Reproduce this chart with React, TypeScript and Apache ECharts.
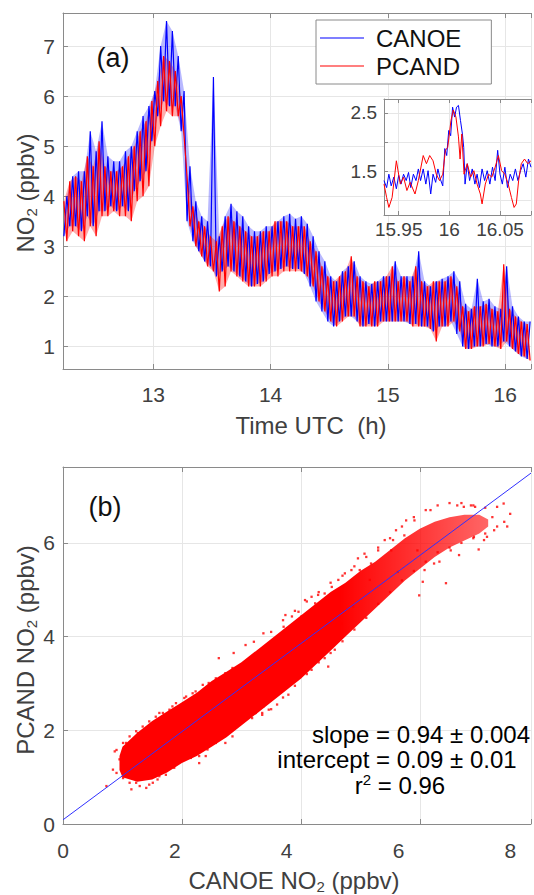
import React, { useEffect, useRef } from "react";
import * as echarts from "echarts";

// ---------- panel (a): time series, envelope read per 0.05 h bin ----------
const timeBins = [
  12.25, 12.3, 12.35, 12.4, 12.45, 12.5, 12.55, 12.6, 12.65, 12.7,
  12.75, 12.8, 12.85, 12.9, 12.95, 13.0, 13.05, 13.1, 13.15, 13.2,
  13.25, 13.3, 13.35, 13.4, 13.45, 13.5, 13.55, 13.6, 13.65, 13.7,
  13.75, 13.8, 13.85, 13.9, 13.95, 14.0, 14.05, 14.1, 14.15, 14.2,
  14.25, 14.3, 14.35, 14.4, 14.45, 14.5, 14.55, 14.6, 14.65, 14.7,
  14.75, 14.8, 14.85, 14.9, 14.95, 15.0, 15.05, 15.1, 15.15, 15.2,
  15.25, 15.3, 15.35, 15.4, 15.45, 15.5, 15.55, 15.6, 15.65, 15.7,
  15.75, 15.8, 15.85, 15.9, 15.95, 16.0, 16.05, 16.1, 16.15, 16.2,
];
const canoeHi = [
  4.0, 4.4, 4.5, 4.5, 5.3, 4.9, 5.5, 4.8, 4.7, 4.7,
  4.9, 5.0, 5.3, 5.6, 5.8, 6.1, 7.0, 7.5, 7.3, 6.8,
  6.1, 4.6, 3.9, 3.6, 3.5, 6.38, 3.2, 3.6, 3.85, 3.7,
  3.6, 3.4, 3.3, 3.3, 3.4, 3.4, 3.5, 3.6, 3.65, 3.55,
  3.6, 3.45, 3.2, 2.9, 2.7, 2.4, 2.3, 2.5, 2.6, 2.7,
  2.4, 2.3, 2.25, 2.3, 2.4, 2.4, 2.7, 2.4, 2.4, 2.4,
  2.9, 2.3, 2.2, 2.3, 2.35, 2.4, 2.5, 2.3, 1.85, 1.75,
  2.35, 1.9, 1.95, 1.8, 1.75, 2.6, 1.8, 1.6, 1.5, 1.5,
];
const canoeLo = [
  3.2, 3.4, 3.4, 3.3, 3.6, 3.4, 3.7, 3.7, 3.8, 3.7,
  3.8, 3.7, 4.1, 4.3, 4.5, 5.1, 5.6, 5.9, 5.8, 5.8,
  5.3, 3.5, 3.1, 2.9, 2.7, 2.6, 2.4, 2.5, 2.6, 2.5,
  2.4, 2.3, 2.2, 2.25, 2.3, 2.45, 2.5, 2.55, 2.6, 2.55,
  2.55, 2.45, 2.2, 1.9, 1.7, 1.5, 1.4, 1.5, 1.6, 1.6,
  1.5, 1.4, 1.45, 1.4, 1.5, 1.5, 1.5, 1.5, 1.5, 1.45,
  1.45, 1.4, 1.4, 1.3, 1.4, 1.4, 1.5, 1.25, 1.0, 0.95,
  1.0, 1.0, 1.05, 1.0, 1.0, 1.1, 1.0, 0.9, 0.8, 0.75,
];
const pcandHi = [
  3.9, 4.3, 4.4, 4.3, 4.8, 4.6, 5.1, 4.6, 4.5, 4.5,
  4.6, 4.8, 5.0, 5.3, 5.5, 5.9, 6.3, 6.8, 6.7, 6.5,
  6.0, 4.4, 3.8, 3.5, 3.4, 3.2, 3.1, 3.4, 3.6, 3.5,
  3.4, 3.3, 3.2, 3.2, 3.3, 3.3, 3.5, 3.5, 3.5, 3.4,
  3.4, 3.4, 3.1, 2.9, 2.6, 2.4, 2.3, 2.4, 2.5, 2.8,
  2.4, 2.3, 2.2, 2.3, 2.3, 2.4, 2.6, 2.3, 2.4, 2.3,
  2.6, 2.3, 2.2, 2.3, 2.3, 2.3, 2.4, 2.2, 1.8, 1.7,
  1.8, 1.8, 1.85, 1.75, 1.7, 2.64, 1.75, 1.6, 1.5, 1.45,
];
const pcandLo = [
  3.1, 3.3, 3.2, 3.1, 3.4, 3.2, 3.6, 3.6, 3.7, 3.6,
  3.6, 3.5, 3.9, 4.0, 4.2, 5.0, 5.4, 5.7, 5.6, 5.6,
  5.2, 3.4, 3.0, 2.8, 2.6, 2.5, 2.1, 2.2, 2.5, 2.4,
  2.3, 2.2, 2.2, 2.2, 2.3, 2.4, 2.4, 2.5, 2.5, 2.5,
  2.5, 2.4, 2.2, 1.9, 1.7, 1.5, 1.4, 1.5, 1.6, 1.6,
  1.4, 1.4, 1.4, 1.4, 1.5, 1.5, 1.5, 1.5, 1.5, 1.4,
  1.4, 1.4, 1.35, 1.1, 1.4, 1.4, 1.5, 1.3, 0.95, 0.95,
  1.0, 1.0, 1.05, 1.0, 0.95, 1.1, 0.95, 0.85, 0.8, 0.72,
];

// ---------- inset ----------
const insetCanoeT = [
  15.9355, 15.9381, 15.9403, 15.9426, 15.9452, 15.9477, 15.95, 15.9523, 15.9548, 15.9574,
  15.9597, 15.9619, 15.9645, 15.9671, 15.9694, 15.9716, 15.9742, 15.9768, 15.979, 15.9816,
  15.9839, 15.9865, 15.9887, 15.991, 15.9935, 15.9955, 15.9974, 15.9994, 16.0013, 16.0032,
  16.0052, 16.0071, 16.009, 16.011, 16.0129, 16.0142, 16.0155, 16.0177, 16.02, 16.0226,
  16.0252, 16.0274, 16.0297, 16.0323, 16.0348, 16.0374, 16.04, 16.0426, 16.0452, 16.0477,
  16.05, 16.0523, 16.0548, 16.0574, 16.06, 16.0626, 16.0652, 16.0677, 16.0703, 16.0729,
  16.0755, 16.0781, 16.0806,
];
const insetCanoeV = [
  1.34, 1.22, 1.45, 1.25, 1.4, 1.2, 1.43, 1.28, 1.45, 1.34,
  1.48, 1.22, 1.45, 1.34, 1.54, 1.34, 1.54, 1.28, 1.51, 1.11,
  1.45, 1.31, 1.54, 1.37, 1.25, 1.89, 1.77, 2.2, 2.11, 2.6,
  2.43, 2.6, 2.63, 2.37, 2.14, 1.91, 1.28, 1.63, 1.34, 1.54,
  1.28, 1.45, 1.22, 1.54, 1.34, 1.51, 1.28, 1.57, 1.34, 1.86,
  1.45, 1.28, 1.57, 1.22, 1.45, 1.34, 1.54, 1.34, 1.51, 1.63,
  1.4, 1.71, 1.57,
];
const insetPcandT = [
  15.9355, 15.9381, 15.9403, 15.9435, 15.9477, 15.9516, 15.9548, 15.9581, 15.9613, 15.9661,
  15.9694, 15.9742, 15.9774, 15.9806, 15.9839, 15.9871, 15.9903, 15.9935, 15.9961, 15.9984,
  16.0016, 16.0039, 16.0065, 16.009, 16.0106, 16.0123, 16.0145, 16.0177, 16.021, 16.0242,
  16.0274, 16.0306, 16.0323, 16.0355, 16.0387, 16.0419, 16.0452, 16.0484, 16.0516, 16.0548,
  16.0581, 16.0613, 16.0639, 16.0661, 16.0684, 16.071, 16.0742, 16.0774, 16.0806,
];
const insetPcandV = [
  1.28, 1.05, 0.88, 1.05, 1.68, 1.28, 1.4, 1.17, 1.31, 1.11,
  1.34, 1.77, 1.63, 1.77, 1.68, 1.45, 1.34, 1.45, 1.86, 1.91,
  2.37, 2.55, 2.43, 2.09, 1.71, 2.14, 1.45, 1.63, 1.4, 1.51,
  1.28, 1.11, 0.94, 1.28, 1.45, 1.4, 1.57, 1.77, 1.51, 1.45,
  1.28, 1.05, 0.88, 0.94, 1.34, 1.63, 1.71, 1.63, 1.68,
];

// ---------- panel (b): scatter ----------
const bandX = [0.95, 1.0, 1.25, 1.5, 1.75, 2.0, 2.25, 2.5, 2.75, 3.0, 3.25, 3.5, 3.75, 4.0, 4.25, 4.5, 4.75, 5.0, 5.25, 5.5, 5.75, 6.0, 6.25, 6.5, 6.75, 7.0, 7.15];
const bandHi = [1.45, 1.65, 1.95, 2.2, 2.4, 2.6, 2.8, 3.05, 3.25, 3.45, 3.7, 3.95, 4.2, 4.45, 4.7, 4.95, 5.15, 5.4, 5.6, 5.85, 6.1, 6.3, 6.45, 6.55, 6.6, 6.6, 6.5];
const bandLo = [1.15, 1.0, 0.9, 0.95, 1.1, 1.3, 1.45, 1.65, 1.85, 2.1, 2.35, 2.6, 2.85, 3.1, 3.4, 3.7, 4.0, 4.3, 4.6, 4.9, 5.2, 5.45, 5.7, 5.9, 6.05, 6.2, 6.35];
const scatterX = [
  7.52, 7.41, 7.47, 7.42, 7.3, 7.22, 7.25, 7.13, 7.08, 6.99, 6.91, 6.93, 6.86, 6.74, 6.63, 6.66, 6.52, 6.44, 6.33, 6.24,
  6.18, 6.08, 5.99, 6.05, 5.96, 5.91, 5.77, 5.74, 5.6, 5.63, 5.55, 5.52, 5.41, 5.3, 5.18, 5.16, 5.07, 4.99, 4.96, 4.88,
  4.85, 4.74, 4.71, 4.68, 4.63, 4.6, 4.52, 4.4, 4.46, 4.29, 4.24, 4.18, 4.13, 4.07, 4.01, 3.96, 3.85, 3.74, 3.71, 4.4,
  4.18, 3.96, 3.85, 4.57, 2.62, 3.21, 3.37, 2.87, 3.07, 0.73, 0.84, 0.87, 0.95, 1.06, 1.15, 1.23, 1.26, 1.4, 1.51, 1.62,
  1.62, 1.73, 1.84, 2.04, 2.18, 2.29, 2.4, 2.45, 2.73, 2.85, 2.96, 3.18, 3.35, 3.4, 3.29, 3.4, 3.49, 3.6, 3.35, 3.63,
  3.79, 3.74, 3.93, 4.46, 4.18, 3.46,
  0.9, 1.01, 1.12, 1.23, 1.34, 1.45, 1.56, 1.68, 1.79, 1.9, 2.07, 2.23, 2.35, 2.57, 2.73, 2.85,
  0.9, 1.01, 1.12, 1.29, 1.45, 1.59, 1.73, 1.87, 2.01, 2.15, 2.29, 2.43, 2.57, 2.73, 2.9, 3.07, 3.24, 3.37,
  3.5, 3.7, 3.9, 4.1, 4.3, 4.5, 4.7, 4.9, 5.1, 5.3, 5.5, 5.7, 5.9, 6.1, 6.3, 6.5, 6.7, 6.9, 7.1,
  3.5, 3.7, 3.9, 4.1, 4.3, 4.5, 4.7, 4.9, 5.1, 5.3, 5.5, 5.7, 5.9, 6.1, 6.3, 6.5, 6.7, 6.9, 7.1, 7.3,
];
const scatterY = [
  6.62, 6.84, 6.35, 6.45, 6.77, 6.55, 6.27, 6.13, 6.06, 5.86, 6.13, 6.77, 6.8, 6.77, 6.8, 5.74, 5.84, 5.14, 5.6, 5.56,
  6.7, 5.42, 4.88, 5.17, 5.84, 6.48, 6.48, 6.16, 6.27, 5.38, 6.06, 5.84, 6.06, 5.84, 5.56, 5.21, 5.77, 5.42, 5.67, 4.64,
  5.42, 5.35, 5.06, 4.28, 5.21, 4.07, 5.06, 4.92, 3.93, 4.89, 4.71, 4.85, 4.5, 4.78, 4.43, 4.53, 4.43, 4.46, 4.21, 3.54,
  3.5, 3.65, 3.93, 3.72, 3.54, 3.89, 4.07, 3.65, 3.82, 0.81, 1.16, 1.55, 1.38, 1.73, 0.74, 0.88, 1.94, 0.77, 0.88, 1.02,
  2.37, 2.26, 2.51, 2.69, 2.79, 1.3, 1.45, 3.01, 1.73, 1.87, 3.22, 2.26, 2.37, 3.08, 2.51, 2.65, 2.79, 2.55, 2.33, 3.01,
  2.76, 3.15, 3.4, 3.36, 3.29, 2.44,
  1.58, 1.73, 1.87, 1.98, 2.08, 2.19, 2.29, 2.37, 2.44, 2.58, 2.72, 2.83, 2.97, 3.11, 3.22, 3.33,
  1.09, 0.98, 0.88, 0.81, 0.84, 0.95, 1.05, 1.2, 1.38, 1.41, 1.45, 1.59, 1.73, 1.91, 2.08, 2.23, 2.37, 2.51,
  4.1, 4.35, 4.55, 4.75, 4.95, 5.15, 5.3, 5.5, 5.7, 5.9, 6.1, 6.35, 6.55, 6.7, 6.8, 6.85, 6.85, 6.8, 6.75,
  2.45, 2.7, 2.95, 3.2, 3.45, 3.65, 3.9, 4.15, 4.4, 4.7, 4.95, 5.2, 5.4, 5.6, 5.8, 5.9, 6.0, 6.1, 6.2, 6.35,
];
const fitX = [0, 7.87];
const fitY = [0.09, 7.49];

// ---------- tick labels ----------
const topXTickLabels = [13, 14, 15, 16];
const topYTickLabels = [1, 2, 3, 4, 5, 6, 7];
const insetXTickLabels = [15.95, 16, 16.05];
const insetYTickLabels = [1.5, 2.5];
const bottomXTickLabels = [0, 2, 4, 6, 8];
const bottomYTickLabels = [0, 2, 4, 6];

const FONT = "'Liberation Sans', Arial, Helvetica, sans-serif";
const AXIS_COLOR = "#8a8a8a";
const LABEL_COLOR = "#404040";
const GRID_COLOR = "#e6e6e6";

const only = (list: number[]) => (v: number) =>
  list.some((x) => Math.abs(x - v) < 1e-6) ? String(+v.toFixed(4)) : "";

export default function App() {
  const ref = useRef<HTMLDivElement>(null);
  useEffect(() => {
    if (!ref.current) return;
    const chart = echarts.init(ref.current, undefined, { renderer: "svg" });

    const HALF = 0.0125;
    const canoeLine: number[][] = [];
    const pcandLine: number[][] = [];
    timeBins.forEach((t, i) => {
      canoeLine.push([t - HALF, canoeLo[i]], [t + HALF, canoeHi[i]]);
      pcandLine.push([t - HALF, pcandHi[i]], [t + HALF, pcandLo[i]]);
    });
    const insetCanoe = insetCanoeT.map((t, i) => [t, insetCanoeV[i]]);
    const insetPcand = insetPcandT.map((t, i) => [t, insetPcandV[i]]);
    const scatter = scatterX.map((x, i) => [x, scatterY[i]]);
    const fit = fitX.map((x, i) => [x, fitY[i]]);

    const envelope = (hi: number[], lo: number[], hiShift: number, loShift: number, fill: string, z: number) => ({
      type: "custom",
      xAxisIndex: 0,
      yAxisIndex: 0,
      data: [[0, 0]],
      z,
      silent: true,
      renderItem: (_p: any, api: any) => {
        const pts: number[][] = [];
        for (let i = 0; i < timeBins.length; i++) pts.push(api.coord([timeBins[i] + hiShift, hi[i]]));
        for (let i = timeBins.length - 1; i >= 0; i--) pts.push(api.coord([timeBins[i] + loShift, lo[i]]));
        return { type: "polygon", shape: { points: pts }, style: { fill } };
      },
    });

    const axisLine = { show: true, lineStyle: { color: AXIS_COLOR, width: 1 } };
    const tickIn = { show: true, inside: true, length: 5, lineStyle: { color: AXIS_COLOR } };
    const split = { show: true, lineStyle: { color: GRID_COLOR, width: 1 } };
    const lab = (margin: number, size: number, list: number[]) => ({
      show: true,
      color: LABEL_COLOR,
      fontSize: size,
      fontFamily: FONT,
      margin,
      showMinLabel: true,
      showMaxLabel: true,
      formatter: only(list),
    });
    const noLab = { show: false };
    const noSplit = { show: false };

    const txt = (x: number, y: number, text: string, size: number, color: string, rotation = 0, rich?: any) => ({
      type: "text",
      x,
      y,
      rotation,
      z: 50,
      style: {
        text,
        fill: color,
        fontSize: size,
        fontFamily: FONT,
        align: "center",
        verticalAlign: "middle",
        rich,
      },
    });
    const subRich = (size: number, color: string) => ({
      a: { fontSize: size, fontFamily: FONT, fill: color, color, lineHeight: 28, verticalAlign: "middle" },
      s: { fontSize: 15, fontFamily: FONT, fill: color, color, lineHeight: 14, verticalAlign: "bottom" },
    });
    const supRich = {
      a: { fontSize: 24, fontFamily: FONT, fill: "#000", color: "#000", lineHeight: 26, verticalAlign: "middle" },
      s: { fontSize: 15, fontFamily: FONT, fill: "#000", color: "#000", lineHeight: 14, verticalAlign: "top" },
    };

    chart.setOption({
      animation: false,
      backgroundColor: "#ffffff",
      textStyle: { fontFamily: FONT },
      grid: [
        { left: 63, top: 13, width: 471, height: 356 },
        { left: 384, top: 99, width: 150, height: 116, show: true, backgroundColor: "#ffffff", borderWidth: 0, z: 5 },
        { left: 63, top: 467, width: 471, height: 357 },
      ],
      legend: {
        data: ["CANOE", "PCAND"],
        orient: "vertical",
        left: 316,
        top: 20,
        padding: [5, 30, 5, 4],
        itemGap: 2,
        itemWidth: 44,
        itemHeight: 1,
        icon: "rect",
        backgroundColor: "#ffffff",
        borderColor: AXIS_COLOR,
        borderWidth: 1,
        textStyle: { fontSize: 24, color: "#111", fontFamily: FONT, padding: [0, 0, 0, 7], lineHeight: 26 },
      },
      xAxis: [
        { type: "value", gridIndex: 0, position: "bottom", min: 12.23, max: 16.22, splitNumber: 4, axisLine, axisTick: tickIn, axisLabel: lab(15, 21, topXTickLabels), splitLine: split },
        { type: "value", gridIndex: 0, position: "top", min: 12.23, max: 16.22, splitNumber: 4, axisLine, axisTick: tickIn, axisLabel: noLab, splitLine: noSplit },
        { type: "value", gridIndex: 1, position: "bottom", min: 15.9355, max: 16.0806, splitNumber: 3, axisLine, axisTick: { ...tickIn, length: 4 }, axisLabel: lab(5, 19, insetXTickLabels), splitLine: split, z: 6 },
        { type: "value", gridIndex: 1, position: "top", min: 15.9355, max: 16.0806, splitNumber: 3, axisLine, axisTick: { ...tickIn, length: 4 }, axisLabel: noLab, splitLine: noSplit, z: 6 },
        { type: "value", gridIndex: 2, position: "bottom", min: 0, max: 7.87, interval: 2, axisLine, axisTick: tickIn, axisLabel: noLab, splitLine: split },
        { type: "value", gridIndex: 2, position: "top", min: 0, max: 7.87, interval: 2, axisLine, axisTick: tickIn, axisLabel: noLab, splitLine: noSplit },
        { type: "value", gridIndex: 2, position: "bottom", offset: 0, min: 0, max: 8.37, interval: 2, axisLine: { show: false }, axisTick: { show: false }, axisLabel: lab(16, 21, bottomXTickLabels), splitLine: noSplit },
      ],
      yAxis: [
        { type: "value", gridIndex: 0, min: 0.55, max: 7.66, splitNumber: 7, axisLine, axisTick: tickIn, axisLabel: lab(8, 21, topYTickLabels), splitLine: split },
        { type: "value", gridIndex: 1, min: 0.75, max: 2.74, splitNumber: 4, axisLine, axisTick: { ...tickIn, length: 4 }, axisLabel: lab(7, 19, insetYTickLabels), splitLine: split, z: 6 },
        { type: "value", gridIndex: 2, min: 0, max: 7.62, interval: 2, axisLine, axisTick: tickIn, axisLabel: lab(8, 21, bottomYTickLabels), splitLine: split },
      ],
      series: [
        envelope(canoeHi, canoeLo, HALF, -HALF, "rgba(0,0,255,0.28)", 1),
        envelope(pcandHi, pcandLo, -HALF, HALF, "rgba(255,0,0,0.32)", 1),
        { name: "CANOE", type: "line", xAxisIndex: 0, yAxisIndex: 0, data: canoeLine, symbol: "none", color: "#0000ff", lineStyle: { color: "#0000ff", width: 1.2 }, z: 2 },
        { name: "PCAND", type: "line", xAxisIndex: 0, yAxisIndex: 0, data: pcandLine, symbol: "none", color: "#ff0000", lineStyle: { color: "#ff0000", width: 1.2 }, z: 3 },
        { name: "CANOE inset", type: "line", xAxisIndex: 2, yAxisIndex: 1, data: insetCanoe, symbol: "none", lineStyle: { color: "#0000ff", width: 1 }, z: 7 },
        { name: "PCAND inset", type: "line", xAxisIndex: 2, yAxisIndex: 1, data: insetPcand, symbol: "none", lineStyle: { color: "#ff0000", width: 1 }, z: 8 },
        {
          name: "cloud",
          type: "custom",
          xAxisIndex: 4,
          yAxisIndex: 2,
          data: [[0, 0]],
          z: 2,
          silent: true,
          renderItem: (_p: any, api: any) => {
            const pts: number[][] = [];
            for (let i = 0; i < bandX.length; i++) pts.push(api.coord([bandX[i], bandHi[i]]));
            for (let i = bandX.length - 1; i >= 0; i--) pts.push(api.coord([bandX[i], bandLo[i]]));
            return {
              type: "polygon",
              shape: { points: pts },
              style: {
                fill: new echarts.graphic.LinearGradient(0, 0, 1, 0, [
                  { offset: 0, color: "rgba(255,0,0,1)" },
                  { offset: 0.6, color: "rgba(255,0,0,1)" },
                  { offset: 1, color: "rgba(255,0,0,0.6)" },
                ]),
              },
            };
          },
        },
        { name: "points", type: "scatter", xAxisIndex: 4, yAxisIndex: 2, data: scatter, symbol: "rect", symbolSize: 2.3, itemStyle: { color: "#ff0000" }, z: 3 },
        { name: "fit", type: "line", xAxisIndex: 4, yAxisIndex: 2, data: fit, symbol: "none", lineStyle: { color: "#3030ff", width: 1 }, z: 4 },
      ],
      graphic: [
        txt(113, 58, "(a)", 27, "#111"),
        txt(105, 507, "(b)", 27, "#111"),
        txt(311, 425, "Time UTC  (h)", 24, LABEL_COLOR),
        txt(25, 193, "{a|NO}{s|2}{a| (ppbv)}", 24, LABEL_COLOR, Math.PI / 2, subRich(24, LABEL_COLOR)),
        txt(25, 650, "{a|PCAND NO}{s|2}{a| (ppbv)}", 24, LABEL_COLOR, Math.PI / 2, subRich(24, LABEL_COLOR)),
        txt(294, 880, "{a|CANOE NO}{s|2}{a| (ppbv)}", 24, LABEL_COLOR, 0, subRich(24, LABEL_COLOR)),
        txt(421, 734, "slope = 0.94 ± 0.004", 24, "#000"),
        txt(397, 759, "intercept = 0.09 ± 0.01", 24, "#000"),
        txt(400, 785, "{a|r}{s|2}{a| = 0.96}", 24, "#000", 0, supRich),
      ],
    });
    return () => chart.dispose();
  }, []);
  return <div ref={ref} style={{ position: "fixed", left: 0, top: 0, width: 534, height: 895 }} />;
}
